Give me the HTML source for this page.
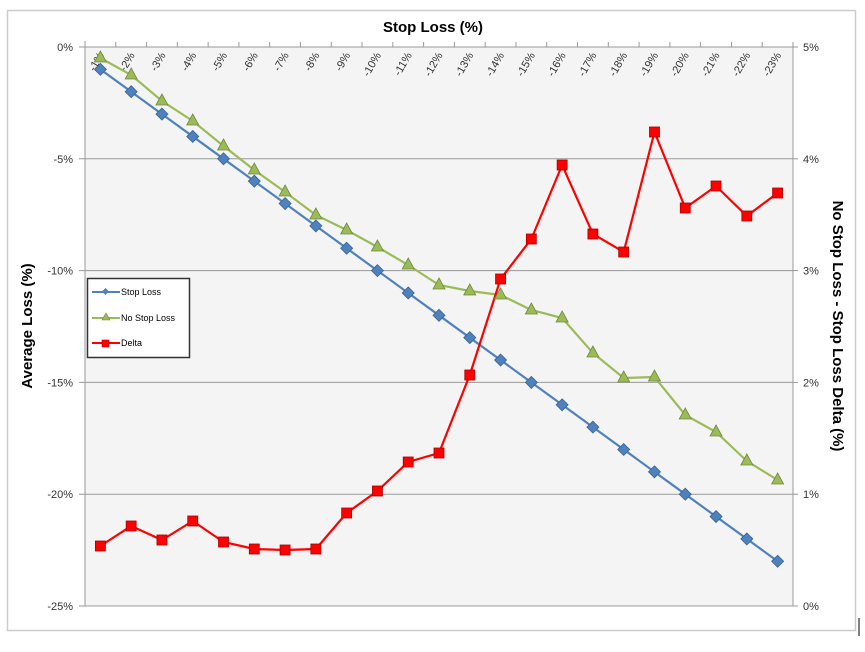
<!DOCTYPE html>
<html><head><meta charset="utf-8"><style>
body{margin:0;background:#fff;width:865px;height:647px;overflow:hidden}
text{font-family:"Liberation Sans",sans-serif}
</style></head><body>
<svg id="s" width="865" height="647" xmlns="http://www.w3.org/2000/svg">
<rect x="7.5" y="10.5" width="848" height="620" fill="#fff" stroke="#ccc" stroke-width="1.5"/>
<line x1="859" y1="618" x2="859" y2="636" stroke="#000"/>
<rect x="85" y="47" width="708" height="559" fill="#f4f4f4"/>
<g id="g"></g>
<text x="433" y="32" font-size="15" font-weight="bold" text-anchor="middle">Stop Loss (%)</text>
<text transform="translate(32,326) rotate(-90)" font-size="15" font-weight="bold" text-anchor="middle">Average Loss (%)</text>
<text transform="translate(833,326) rotate(90)" font-size="15" font-weight="bold" text-anchor="middle">No Stop Loss - Stop Loss Delta (%)</text>
<rect x="87.5" y="278.5" width="102" height="79" fill="#fff" stroke="#333" stroke-width="1.5"/>
<line x1="92" y1="292" x2="120" y2="292" stroke="#4f81bd" stroke-width="2"/><rect x="103" y="289" width="5" height="5" fill="#4f81bd" transform="rotate(45 105.5 291.5)"/>
<text x="121" y="295" font-size="9">Stop Loss</text>
<line x1="92" y1="318" x2="120" y2="318" stroke="#9bbb59" stroke-width="2"/><polygon points="106,313 110,320 102,320" fill="#9bbb59" stroke="#71893f" stroke-width="0.6"/>
<text x="121" y="321" font-size="9">No Stop Loss</text>
<line x1="92" y1="343" x2="120" y2="343" stroke="#ff0000" stroke-width="2"/><rect x="102" y="340" width="7" height="7" fill="#ff0000" stroke="#b00" stroke-width="0.6"/>
<text x="121" y="346" font-size="9">Delta</text>
</svg>
<script>
var g=document.getElementById('g'),h='';
var L=85,R=793,T=47,B=606,n=23,w=(R-L)/n;
for(var k=0;k<=5;k++){var y=T+k*(B-T)/5;
h+='<line x1="'+(L-6)+'" y1="'+y+'" x2="'+R+'" y2="'+y+'" stroke="#999" stroke-width="1"/>';
h+='<line x1="'+R+'" y1="'+y+'" x2="'+(R+5)+'" y2="'+y+'" stroke="#999"/>';
h+='<text x="'+(L-12)+'" y="'+(y+4)+'" font-size="11" text-anchor="end" fill="#333">'+(k?'-'+k*5:'0')+'%</text>';
h+='<text x="'+(R+10)+'" y="'+(y+4)+'" font-size="11" fill="#333">'+(5-k)+'%</text>';}
h+='<line x1="'+L+'" y1="'+(T-6)+'" x2="'+L+'" y2="'+B+'" stroke="#999"/>';
h+='<line x1="'+R+'" y1="'+T+'" x2="'+R+'" y2="'+B+'" stroke="#999"/>';
for(var i=0;i<=n;i++){var x=L+i*w;h+='<line x1="'+x+'" y1="'+(T-5)+'" x2="'+x+'" y2="'+T+'" stroke="#999"/>';}
for(var i=0;i<n;i++){var x=L+(i+0.5)*w;h+='<text transform="translate('+(x+4)+','+(T+8)+') rotate(-60)" font-size="11" text-anchor="end" fill="#333">-'+(i+1)+'%</text>';}
var ns=[58,75,101,121,146,170,192,215,230,247,265,285,291,295,310,318,353,378,377,415,432,461,480];
var dl=[546,526,540,521,542,549,550,549,513,491,462,453,375,279,239,165,234,252,132,208,186,216,193];
function X(i){return L+(i+0.5)*w}
var p1=[],p2=[],p3=[];
for(var i=0;i<n;i++){p1.push(X(i)+','+(T+22.36*(i+1)));p2.push(X(i)+','+ns[i]);p3.push(X(i)+','+dl[i]);}
h+='<polyline points="'+p1.join(' ')+'" fill="none" stroke="#4f81bd" stroke-width="2.2"/>';
h+='<polyline points="'+p2.join(' ')+'" fill="none" stroke="#9bbb59" stroke-width="2.2"/>';
h+='<polyline points="'+p3.join(' ')+'" fill="none" stroke="#ff0000" stroke-width="2.2"/>';
for(var i=0;i<n;i++){var x=X(i),y=T+22.36*(i+1);
h+='<polygon points="'+x+','+(y-6)+' '+(x+6)+','+y+' '+x+','+(y+6)+' '+(x-6)+','+y+'" fill="#4f81bd" stroke="#3a6396" stroke-width="0.8"/>';
y=ns[i];h+='<polygon points="'+x+','+(y-7)+' '+(x+6)+','+(y+4)+' '+(x-6)+','+(y+4)+'" fill="#9bbb59" stroke="#71893f" stroke-width="0.8"/>';
y=dl[i];h+='<rect x="'+(x-5)+'" y="'+(y-5)+'" width="10" height="10" fill="#ff0000" stroke="#a00" stroke-width="0.8"/>';}
g.innerHTML=h;
</script>
</body></html>
